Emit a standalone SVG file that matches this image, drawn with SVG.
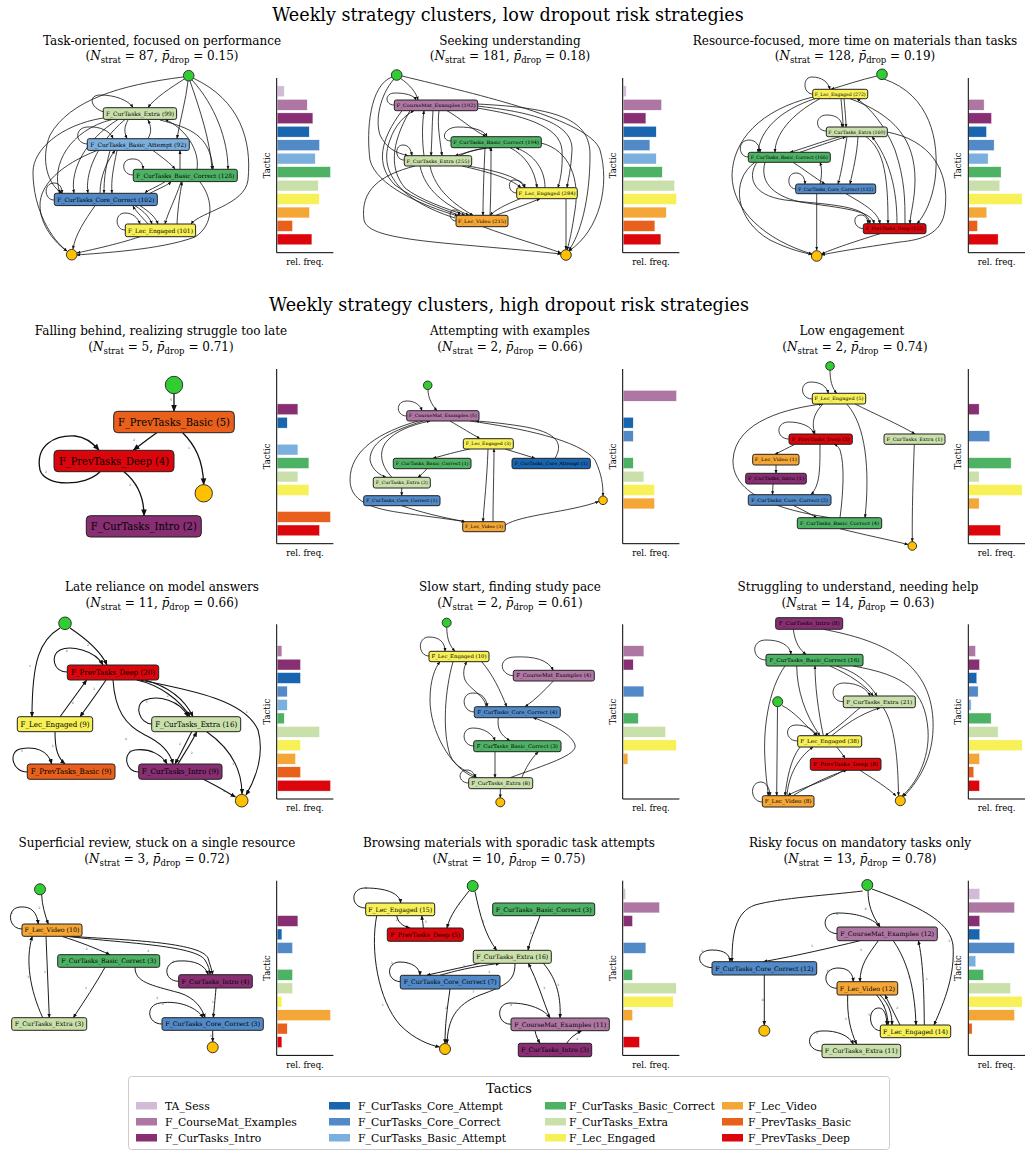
<svg xmlns="http://www.w3.org/2000/svg" width="1028" height="1154" viewBox="0 0 1028 1154">
<style>
text{font-family:"DejaVu Serif","Liberation Serif",serif;fill:#000}
.mt{font-size:17.6px;text-anchor:middle}
.pt{font-size:12px;text-anchor:middle}
.sb{font-size:8.5px}
.nl{text-anchor:middle}
.node rect{stroke:#222;stroke-width:1}
.st{fill:#32cd32;stroke:#222;stroke-width:0.9}
.en{fill:#ffc000;stroke:#222;stroke-width:0.9}
.e1{fill:none;stroke:#111;stroke-width:0.8;marker-end:url(#m3)}
.e2{fill:none;stroke:#111;stroke-width:0.95;marker-end:url(#m4)}
.e3{fill:none;stroke:#111;stroke-width:1.3;marker-end:url(#m6)}
.e4{fill:none;stroke:#111;stroke-width:1.05;marker-end:url(#m5)}
.lb{font-family:"DejaVu Sans",sans-serif;font-size:3px;fill:#444;text-anchor:middle}
.ax{fill:none;stroke:#000;stroke-width:1}
.al{font-size:8.5px;text-anchor:middle}
.bars rect{stroke:#fff;stroke-width:0.4}
.c0{fill:#d1bbd7}.c1{fill:#ae76a3}.c2{fill:#882e72}.c3{fill:#1965b0}.c4{fill:#5289c7}.c5{fill:#7bafde}
.c6{fill:#4eb265}.c7{fill:#cae0ab}.c8{fill:#f7f056}.c9{fill:#f4a736}.c10{fill:#e8601c}.c11{fill:#dc050c}
.lg{font-size:10.8px}
</style>
<defs>
<marker id="m3" viewBox="0 0 10 10" refX="9" refY="5" markerWidth="3.8" markerHeight="3.8" markerUnits="userSpaceOnUse" orient="auto"><path d="M0,1 L10,5 L0,9 z" fill="#111"/></marker>
<marker id="m4" viewBox="0 0 10 10" refX="9" refY="5" markerWidth="4.6" markerHeight="4.6" markerUnits="userSpaceOnUse" orient="auto"><path d="M0,1 L10,5 L0,9 z" fill="#111"/></marker>
<marker id="m5" viewBox="0 0 10 10" refX="9" refY="5" markerWidth="5.5" markerHeight="5.5" markerUnits="userSpaceOnUse" orient="auto"><path d="M0,1 L10,5 L0,9 z" fill="#111"/></marker>
<marker id="m6" viewBox="0 0 10 10" refX="9" refY="5" markerWidth="7" markerHeight="7" markerUnits="userSpaceOnUse" orient="auto"><path d="M0,1 L10,5 L0,9 z" fill="#111"/></marker>
</defs>
<rect width="1028" height="1154" fill="#fff"/>

<g id="titles">
<text class="mt" x="508" y="21">Weekly strategy clusters, low dropout risk strategies</text>
<text class="mt" x="509" y="311">Weekly strategy clusters, high dropout risk strategies</text>
<text class="pt" x="162" y="45">Task-oriented, focused on performance</text>
<text class="pt" x="162" y="60">(<tspan font-style="italic">N</tspan><tspan class="sb" dy="2.5">strat</tspan><tspan dy="-2.5"> = 87, </tspan><tspan font-style="italic">p̄</tspan><tspan class="sb" dy="2.5">drop</tspan><tspan dy="-2.5"> = 0.15)</tspan></text>
<text class="pt" x="510" y="45">Seeking understanding</text>
<text class="pt" x="510" y="60">(<tspan font-style="italic">N</tspan><tspan class="sb" dy="2.5">strat</tspan><tspan dy="-2.5"> = 181, </tspan><tspan font-style="italic">p̄</tspan><tspan class="sb" dy="2.5">drop</tspan><tspan dy="-2.5"> = 0.18)</tspan></text>
<text class="pt" x="855" y="45">Resource-focused, more time on materials than tasks</text>
<text class="pt" x="855" y="60">(<tspan font-style="italic">N</tspan><tspan class="sb" dy="2.5">strat</tspan><tspan dy="-2.5"> = 128, </tspan><tspan font-style="italic">p̄</tspan><tspan class="sb" dy="2.5">drop</tspan><tspan dy="-2.5"> = 0.19)</tspan></text>
<text class="pt" x="161" y="335">Falling behind, realizing struggle too late</text>
<text class="pt" x="161" y="351">(<tspan font-style="italic">N</tspan><tspan class="sb" dy="2.5">strat</tspan><tspan dy="-2.5"> = 5, </tspan><tspan font-style="italic">p̄</tspan><tspan class="sb" dy="2.5">drop</tspan><tspan dy="-2.5"> = 0.71)</tspan></text>
<text class="pt" x="510" y="335">Attempting with examples</text>
<text class="pt" x="510" y="351">(<tspan font-style="italic">N</tspan><tspan class="sb" dy="2.5">strat</tspan><tspan dy="-2.5"> = 2, </tspan><tspan font-style="italic">p̄</tspan><tspan class="sb" dy="2.5">drop</tspan><tspan dy="-2.5"> = 0.66)</tspan></text>
<text class="pt" x="852" y="335">Low engagement</text>
<text class="pt" x="855" y="351">(<tspan font-style="italic">N</tspan><tspan class="sb" dy="2.5">strat</tspan><tspan dy="-2.5"> = 2, </tspan><tspan font-style="italic">p̄</tspan><tspan class="sb" dy="2.5">drop</tspan><tspan dy="-2.5"> = 0.74)</tspan></text>
<text class="pt" x="162" y="591">Late reliance on model answers</text>
<text class="pt" x="162" y="607">(<tspan font-style="italic">N</tspan><tspan class="sb" dy="2.5">strat</tspan><tspan dy="-2.5"> = 11, </tspan><tspan font-style="italic">p̄</tspan><tspan class="sb" dy="2.5">drop</tspan><tspan dy="-2.5"> = 0.66)</tspan></text>
<text class="pt" x="510" y="591">Slow start, finding study pace</text>
<text class="pt" x="510" y="607">(<tspan font-style="italic">N</tspan><tspan class="sb" dy="2.5">strat</tspan><tspan dy="-2.5"> = 2, </tspan><tspan font-style="italic">p̄</tspan><tspan class="sb" dy="2.5">drop</tspan><tspan dy="-2.5"> = 0.61)</tspan></text>
<text class="pt" x="858" y="591">Struggling to understand, needing help</text>
<text class="pt" x="858" y="607">(<tspan font-style="italic">N</tspan><tspan class="sb" dy="2.5">strat</tspan><tspan dy="-2.5"> = 14, </tspan><tspan font-style="italic">p̄</tspan><tspan class="sb" dy="2.5">drop</tspan><tspan dy="-2.5"> = 0.63)</tspan></text>
<text class="pt" x="157" y="847">Superficial review, stuck on a single resource</text>
<text class="pt" x="157" y="863">(<tspan font-style="italic">N</tspan><tspan class="sb" dy="2.5">strat</tspan><tspan dy="-2.5"> = 3, </tspan><tspan font-style="italic">p̄</tspan><tspan class="sb" dy="2.5">drop</tspan><tspan dy="-2.5"> = 0.72)</tspan></text>
<text class="pt" x="509" y="847">Browsing materials with sporadic task attempts</text>
<text class="pt" x="509" y="863">(<tspan font-style="italic">N</tspan><tspan class="sb" dy="2.5">strat</tspan><tspan dy="-2.5"> = 10, </tspan><tspan font-style="italic">p̄</tspan><tspan class="sb" dy="2.5">drop</tspan><tspan dy="-2.5"> = 0.75)</tspan></text>
<text class="pt" x="860" y="847">Risky focus on mandatory tasks only</text>
<text class="pt" x="860" y="863">(<tspan font-style="italic">N</tspan><tspan class="sb" dy="2.5">strat</tspan><tspan dy="-2.5"> = 13, </tspan><tspan font-style="italic">p̄</tspan><tspan class="sb" dy="2.5">drop</tspan><tspan dy="-2.5"> = 0.78)</tspan></text>
</g>

<!-- ===== Panel 1 ===== -->
<g id="p1">
<g id="p1-connectors">
<path class="e1" d="M186,78 C170,88 155,98 148,107.5"/>
<path class="e1" d="M188,81 C186,100 180,120 177,138.5"/>
<path class="e1" d="M190,81 C200,110 210,140 212,169"/>
<path class="e1" d="M192,80 C215,105 228,140 228,169"/>
<path class="e1" d="M193,78 C240,100 252,140 248,180 C245,205 200,212 191,224"/>
<path class="e1" d="M183,77 C120,85 70,100 50,135 C40,160 48,185 62,193"/>
<path class="e1" d="M103,118 C60,125 33,150 33,172 C33,210 52,240 67,251"/>
<path class="e1" d="M104,112 C90,108 88,95 100,95 C115,95 128,100 133,107.5"/>
<path class="e1" d="M128,120 C124,127 124,132 127,138.5"/>
<path class="e1" d="M148,138.5 C152,132 151,126 148,120"/>
<path class="e1" d="M160,120 C190,128 210,135 213,169"/>
<path class="e1" d="M197,169 C200,150 185,128 165,119.5"/>
<path class="e1" d="M112,119.5 C70,130 50,165 60,193"/>
<path class="e1" d="M118,119.5 C85,140 70,170 74,193"/>
<path class="e1" d="M125,119.5 C95,145 85,175 88,193"/>
<path class="e1" d="M88,144 C75,144 74,128 87,127 C100,126 110,131 113,138.5"/>
<path class="e1" d="M153,150.5 C163,158 170,163 175,169"/>
<path class="e1" d="M110,150.5 C105,170 104,180 104,193"/>
<path class="e1" d="M117,150.5 C113,170 111,180 112,193"/>
<path class="e1" d="M97,150.5 C60,165 40,185 40,205 C40,225 55,243 67,251"/>
<path class="e1" d="M180,169 L180,150.5"/>
<path class="e1" d="M133,175 C122,175 120,160 131,159 C140,158 143,164 143,169"/>
<path class="e1" d="M165,181.7 C155,188 148,190 145,193"/>
<path class="e1" d="M150,193.3 C160,188 168,185 171,181.7"/>
<path class="e1" d="M181,182 C175,200 168,212 165,224"/>
<path class="e1" d="M177,224 C178,205 180,195 182,182"/>
<path class="e1" d="M200,182 C214,200 214,225 195,237 C160,250 100,253 77,255"/>
<path class="e1" d="M54,200 C44,200 43,183 54,183 C60,183 62,188 62,193"/>
<path class="e1" d="M135,205.7 C145,212 150,218 152,224"/>
<path class="e1" d="M140,205.7 C150,212 156,218 158,224"/>
<path class="e1" d="M148,224 C140,215 135,210 133,206"/>
<path class="e1" d="M95,205.7 C85,220 75,235 73,249"/>
<path class="e1" d="M125,230 C115,230 114,213 125,213 C133,213 138,218 140,224"/>
<path class="e1" d="M140,236.7 C115,245 90,250 77,253"/>
<path class="e1" d="M100,193.3 C100,175 108,160 115,150.5"/>
</g>
<g id="p1-start"><circle class="st" cx="188.7" cy="75.7" r="5.3"/></g>
<g id="p1-end"><circle class="en" cx="71.7" cy="254.7" r="5.3"/></g>
<g id="p1-extra" class="node"><rect x="103.3" y="107.7" width="73.3" height="11.7" rx="2" fill="#cae0ab"/><text class="nl" x="140" y="115.7" font-size="6" textLength="68" lengthAdjust="spacingAndGlyphs">F_CurTasks_Extra (99)</text></g>
<g id="p1-basicatt" class="node"><rect x="87.3" y="138.7" width="102" height="11.7" rx="2" fill="#7bafde"/><text class="nl" x="138.3" y="146.7" font-size="6" textLength="96" lengthAdjust="spacingAndGlyphs">F_CurTasks_Basic_Attempt (92)</text></g>
<g id="p1-basiccor" class="node"><rect x="133.3" y="169.3" width="104" height="12.3" rx="2" fill="#4eb265"/><text class="nl" x="185.3" y="177.6" font-size="6" textLength="98" lengthAdjust="spacingAndGlyphs">F_CurTasks_Basic_Correct (128)</text></g>
<g id="p1-corecor" class="node"><rect x="54.3" y="193.3" width="103" height="12.3" rx="2" fill="#5289c7"/><text class="nl" x="105.8" y="201.6" font-size="6" textLength="97" lengthAdjust="spacingAndGlyphs">F_CurTasks_Core_Correct (102)</text></g>
<g id="p1-leceng" class="node"><rect x="125.3" y="224" width="70.3" height="12.7" rx="2" fill="#f7f056"/><text class="nl" x="160.45" y="232.5" font-size="6" textLength="65" lengthAdjust="spacingAndGlyphs">F_Lec_Engaged (101)</text></g>
</g>

<!-- ===== Panel 2 ===== -->
<g id="p2">
<g id="p2-connectors">
<path class="e1" d="M400,78 C410,85 416,92 418,100"/>
<path class="e1" d="M394,79 C380,95 375,120 380,135 C386,148 396,153 408,155.7"/>
<path class="e1" d="M394,105 C385,105 384,93 395,93 C405,93 414,95 416,100"/>
<path class="e1" d="M392,77 C370,85 366,130 370,160 C376,185 420,205 458,216"/>
<path class="e1" d="M402,110.7 C380,140 375,165 395,185 C415,200 440,208 461,216"/>
<path class="e1" d="M410,110.7 C390,145 390,170 405,188 C420,200 445,208 465,215.3"/>
<path class="e1" d="M420,166 C425,190 445,205 469,215.3"/>
<path class="e1" d="M430,166 C435,190 455,205 473,215.3"/>
<path class="e1" d="M402,76 C480,95 590,120 600,150 C610,185 600,230 569,251"/>
<path class="e1" d="M447,110.7 C460,118 470,128 486,136.7"/>
<path class="e1" d="M477,108 C520,115 560,125 562,150 C563,170 560,180 558,187.7"/>
<path class="e1" d="M477,106 C530,112 573,122 572,150 C571,170 568,180 567,187.7"/>
<path class="e1" d="M477,104 C560,108 590,120 590,155 C590,200 580,235 569,250"/>
<path class="e1" d="M424,155.7 C422,140 422,125 424,110.7"/>
<path class="e1" d="M433,110.7 C432,125 432,140 431,155.7"/>
<path class="e1" d="M439,110.7 C437,125 440,140 442,155.7"/>
<path class="e1" d="M451,141 C440,141 443,127 458,127 C473,127 484,130 487,136.7"/>
<path class="e1" d="M486,147.7 C475,150 465,153 455,155.7"/>
<path class="e1" d="M460,155.7 C470,150 480,149 492,147.7"/>
<path class="e1" d="M485,147.7 C484,170 483,195 483,215.3"/>
<path class="e1" d="M490,215.3 C491,190 491,170 491,147.7"/>
<path class="e1" d="M510,147.7 C525,155 535,170 537,187.7"/>
<path class="e1" d="M545,187.7 C545,170 535,155 516,147.7"/>
<path class="e1" d="M541,143 C570,150 580,180 575,210 C572,230 570,240 567,250"/>
<path class="e1" d="M404,160 C395,160 394,145 403,145 C409,145 411,150 412,155.7"/>
<path class="e1" d="M468,166 C490,170 518,175 525,187.7"/>
<path class="e1" d="M462,166 C488,172 510,178 521,187.7"/>
<path class="e1" d="M415,166 C380,175 360,190 364,220 C368,242 450,242 561,254"/>
<path class="e1" d="M516.7,193 C508,193 507,180 514,180 C521,180 524,184 525,187.7"/>
<path class="e1" d="M520,198.7 C505,205 495,210 490,215.3"/>
<path class="e1" d="M496,215.3 C510,210 525,205 540,198.7"/>
<path class="e1" d="M566,198.7 L566,249.5"/>
<path class="e1" d="M456,221 C449,221 448,210 454,210 C458,210 459,212 459,215.3"/>
<path class="e1" d="M483,226.7 C510,237 540,245 561,253"/>
<path class="e1" d="M455,218 C398,200 378,170 390,140 C395,125 405,115 414,110.7"/>
</g>
<g id="p2-start"><circle class="st" cx="396.7" cy="75" r="5.3"/></g>
<g id="p2-end"><circle class="en" cx="566" cy="255" r="5.3"/></g>
<g id="p2-coursemat" class="node"><rect x="394.3" y="100" width="83.4" height="10.7" rx="2" fill="#ae76a3"/><text class="nl" x="436" y="107" font-size="4.6" textLength="79" lengthAdjust="spacingAndGlyphs">F_CourseMat_Examples (192)</text></g>
<g id="p2-basiccor" class="node"><rect x="451" y="136.7" width="90.3" height="11" rx="2" fill="#4eb265"/><text class="nl" x="496.15" y="143.8" font-size="4.6" textLength="86" lengthAdjust="spacingAndGlyphs">F_CurTasks_Basic_Correct (194)</text></g>
<g id="p2-extra" class="node"><rect x="404.3" y="155.7" width="67.4" height="10.3" rx="2" fill="#cae0ab"/><text class="nl" x="438" y="162.5" font-size="4.6" textLength="63" lengthAdjust="spacingAndGlyphs">F_CurTasks_Extra (255)</text></g>
<g id="p2-leceng" class="node"><rect x="516.7" y="187.7" width="60.6" height="11" rx="2" fill="#f7f056"/><text class="nl" x="547" y="194.8" font-size="4.6" textLength="57" lengthAdjust="spacingAndGlyphs">F_Lec_Engaged (284)</text></g>
<g id="p2-lecvideo" class="node"><rect x="456" y="215.3" width="52" height="11.4" rx="2" fill="#f4a736"/><text class="nl" x="482" y="222.6" font-size="4.6" textLength="48" lengthAdjust="spacingAndGlyphs">F_Lec_Video (215)</text></g>
</g>

<!-- ===== Panel 3 ===== -->
<g id="p3">
<g id="p3-connectors">
<path class="e1" d="M877,76 C860,80 845,85 831,89.3"/>
<path class="e1" d="M812.7,94 C803,94 802,77 812,77 C822,77 828,82 830,89.3"/>
<path class="e1" d="M884,79 C930,95 940,140 935,180 C932,200 925,215 917,223.7"/>
<path class="e1" d="M887,132 C930,140 950,170 945,210 C942,235 920,240 900,242 C860,248 835,252 821.5,255"/>
<path class="e1" d="M841,98.7 C842,110 843,120 843,127"/>
<path class="e1" d="M844,98.7 C845,110 846,120 846,127"/>
<path class="e1" d="M815,98.7 C780,110 760,130 758,152.3"/>
<path class="e1" d="M820,98.7 C790,115 775,135 775,152.3"/>
<path class="e1" d="M813,97 C760,110 733,140 732,175 C732,210 765,240 812,254"/>
<path class="e1" d="M850,98.7 C895,115 915,140 915,180 C915,200 910,215 910,223.7"/>
<path class="e1" d="M905,223.7 C905,200 905,180 895,150 C885,125 870,108 857,98.7"/>
<path class="e1" d="M826.3,131 C815,131 814,115 827,115 C837,115 842,120 842,127"/>
<path class="e1" d="M840,136.7 C820,142 805,148 790,152.3"/>
<path class="e1" d="M800,152.3 C815,147 830,142 846,136.7"/>
<path class="e1" d="M847,136.7 C844,155 842,170 838,184"/>
<path class="e1" d="M858,136.7 C857,155 853,170 850,184"/>
<path class="e1" d="M866,136.7 C885,150 888,180 888,223.7"/>
<path class="e1" d="M897,223.7 C897,190 890,160 872,136.7"/>
<path class="e1" d="M748.3,157 C738,157 737,140 749,140 C756,140 760,146 760,152.3"/>
<path class="e1" d="M793,162.3 C805,170 815,178 825,184"/>
<path class="e1" d="M820,184 C822,175 822,168 820,162.3"/>
<path class="e1" d="M757,162.3 C748,175 750,195 785,200 C830,205 868,205 870,223.7"/>
<path class="e1" d="M765,162.3 C760,180 770,195 800,202 C840,208 872,210 874,223.7"/>
<path class="e1" d="M755,162.3 C730,180 735,220 770,240 C790,250 805,253 812,254.5"/>
<path class="e1" d="M795.7,189 C787,189 786,173 796,173 C802,173 805,178 805,184"/>
<path class="e1" d="M816.7,193.7 L816.7,250.2"/>
<path class="e1" d="M846,193.7 C865,205 878,212 880,223.7"/>
<path class="e1" d="M863.3,228.7 C853,228 852,215 861,215 C866,215 868,220 868,223.7"/>
<path class="e1" d="M880,233.7 C850,243 830,250 821.5,254"/>
</g>
<g id="p3-start"><circle class="st" cx="882" cy="74.3" r="5.3"/></g>
<g id="p3-end"><circle class="en" cx="816.7" cy="256" r="5.3"/></g>
<g id="p3-leceng" class="node"><rect x="812.7" y="89.3" width="55" height="9.4" rx="2" fill="#f7f056"/><text class="nl" x="840.2" y="95.6" font-size="4.6" textLength="51" lengthAdjust="spacingAndGlyphs">F_Lec_Engaged (272)</text></g>
<g id="p3-extra" class="node"><rect x="826.3" y="127" width="61" height="9.7" rx="2" fill="#cae0ab"/><text class="nl" x="856.8" y="133.5" font-size="4.6" textLength="57" lengthAdjust="spacingAndGlyphs">F_CurTasks_Extra (160)</text></g>
<g id="p3-basiccor" class="node"><rect x="748.3" y="152.3" width="82" height="10" rx="2" fill="#4eb265"/><text class="nl" x="789.3" y="158.9" font-size="4.6" textLength="77" lengthAdjust="spacingAndGlyphs">F_CurTasks_Basic_Correct (166)</text></g>
<g id="p3-corecor" class="node"><rect x="795.7" y="184" width="80" height="9.7" rx="2" fill="#5289c7"/><text class="nl" x="835.7" y="190.5" font-size="4.6" textLength="75" lengthAdjust="spacingAndGlyphs">F_CurTasks_Core_Correct (132)</text></g>
<g id="p3-prevdeep" class="node"><rect x="863.3" y="223.7" width="62.7" height="10" rx="2" fill="#dc050c"/><text class="nl" x="894.65" y="230.3" font-size="4.6" textLength="58" lengthAdjust="spacingAndGlyphs">F_PrevTasks_Deep (152)</text></g>
</g>

<!-- ===== Panel 4 (row2 col1) ===== -->
<g id="p4">
<g id="p4-connectors">
<path class="e3" d="M174,393.7 L174,411.3"/>
<path class="e3" d="M156.7,432.7 C148,439 140,445 133.3,450.3"/>
<path class="e3" d="M182.7,432.7 C195,445 203,460 203.7,484.6"/>
<path class="e3" d="M100,471.7 C85,487 45,487 40,470 C35,445 55,435 75,436 C85,437 93,443 99,450.3"/>
<path class="e3" d="M124,471.7 C138,483 144,497 144,515.7"/>
<text class="lb" x="171" y="401" font-size="3.5">5</text>
<text class="lb" x="134" y="441" font-size="3.5">2</text>
<text class="lb" x="189" y="449" font-size="3.5">1</text>
<text class="lb" x="46" y="473" font-size="3.5">2</text>
<text class="lb" x="130" y="486" font-size="3.5">2</text>
</g>
<g id="p4-start"><circle class="st" cx="174" cy="385" r="8.7"/></g>
<g id="p4-end"><circle class="en" cx="203.7" cy="493.3" r="8.7"/></g>
<g id="p4-prevbasic" class="node"><rect x="113.7" y="411.3" width="120.6" height="21.4" rx="4" fill="#e8601c"/><text class="nl" x="174" y="425.9" font-size="11" textLength="112" lengthAdjust="spacingAndGlyphs">F_PrevTasks_Basic (5)</text></g>
<g id="p4-prevdeep" class="node"><rect x="54" y="450.3" width="120" height="21.4" rx="4" fill="#dc050c"/><text class="nl" x="114" y="464.9" font-size="11" textLength="110" lengthAdjust="spacingAndGlyphs">F_PrevTasks_Deep (4)</text></g>
<g id="p4-intro" class="node"><rect x="86.3" y="515.7" width="115" height="21.3" rx="4" fill="#882e72"/><text class="nl" x="143.8" y="530.3" font-size="11" textLength="106" lengthAdjust="spacingAndGlyphs">F_CurTasks_Intro (2)</text></g>
</g>

<!-- ===== Panel 5 (row2 col2) ===== -->
<g id="p5">
<g id="p5-connectors">
<path class="e1" d="M428,389.6 C428,398 432,405 437,410.7"/>
<path class="e1" d="M406.7,416 C396,416 395,401 407,401 C415,401 420,405 422,410.7"/>
<path class="e1" d="M450,421 C462,428 472,434 480,438.7"/>
<path class="e1" d="M423,421 C395,430 370,440 370,460 C372,470 380,475 386,477.3"/>
<path class="e1" d="M392,477.3 C380,465 378,450 388,440 C395,432 410,425 430,421"/>
<path class="e1" d="M418,421 C380,432 350,450 350,480 C350,505 380,510 410,514 C440,518 455,520 465,521.7"/>
<path class="e1" d="M470,421 C520,428 580,440 595,460 C602,475 603,485 603,496"/>
<path class="e1" d="M555,458.3 C563,445 560,432 520,426 C500,423 490,422 476,421"/>
<path class="e1" d="M470,449 C455,452 445,455 433,458.3"/>
<path class="e1" d="M505,449 C515,452 525,455 535,458.3"/>
<path class="e1" d="M488,449 C487,480 484,505 483,521.7"/>
<path class="e1" d="M493,521.7 C493,500 494,470 494,449"/>
<path class="e1" d="M427,468.7 C424,472 421,475 418,477.3"/>
<path class="e1" d="M401.7,488 L401.7,495.7"/>
<path class="e1" d="M401.7,505.7 C420,512 440,517 465,521.7"/>
<path class="e1" d="M505.3,525 C520,515 570,512 598.7,501.5"/>
</g>
<g id="p5-start"><circle class="st" cx="427.7" cy="385.3" r="4.3"/></g>
<g id="p5-end"><circle class="en" cx="603" cy="500.3" r="4.3"/></g>
<g id="p5-coursemat" class="node"><rect x="406.7" y="410.7" width="72.3" height="10.3" rx="2" fill="#ae76a3"/><text class="nl" x="442.85" y="417.4" font-size="4.4" textLength="68" lengthAdjust="spacingAndGlyphs">F_CourseMat_Examples (5)</text></g>
<g id="p5-leceng" class="node"><rect x="463.3" y="438.7" width="50" height="10.3" rx="2" fill="#f7f056"/><text class="nl" x="488.3" y="445.4" font-size="4.4" textLength="45" lengthAdjust="spacingAndGlyphs">F_Lec_Engaged (3)</text></g>
<g id="p5-basiccor" class="node"><rect x="393.3" y="458.3" width="77.7" height="10.4" rx="2" fill="#4eb265"/><text class="nl" x="432.15" y="465" font-size="4.4" textLength="73" lengthAdjust="spacingAndGlyphs">F_CurTasks_Basic_Correct (1)</text></g>
<g id="p5-coreatt" class="node"><rect x="512" y="458.3" width="78.3" height="10.4" rx="2" fill="#1965b0"/><text class="nl" x="551.15" y="465" font-size="4.4" textLength="73" lengthAdjust="spacingAndGlyphs">F_CurTasks_Core_Attempt (1)</text></g>
<g id="p5-extra" class="node"><rect x="373.3" y="477.3" width="57" height="10.7" rx="2" fill="#cae0ab"/><text class="nl" x="401.8" y="484.2" font-size="4.4" textLength="52" lengthAdjust="spacingAndGlyphs">F_CurTasks_Extra (2)</text></g>
<g id="p5-corecor" class="node"><rect x="363.7" y="495.7" width="76.3" height="10" rx="2" fill="#5289c7"/><text class="nl" x="401.85" y="502.2" font-size="4.4" textLength="71" lengthAdjust="spacingAndGlyphs">F_CurTasks_Core_Correct (1)</text></g>
<g id="p5-lecvideo" class="node"><rect x="462.7" y="521.7" width="42.6" height="10" rx="2" fill="#f4a736"/><text class="nl" x="484" y="528.2" font-size="4.4" textLength="38" lengthAdjust="spacingAndGlyphs">F_Lec_Video (3)</text></g>
</g>

<!-- ===== Panel 6 (row2 col3) ===== -->
<g id="p6">
<g id="p6-connectors">
<path class="e1" d="M830,370.3 C830,380 832,388 836.7,393.3"/>
<path class="e1" d="M812.3,399 C800,399 799,382 811,382 C821,382 827,387 828.3,393.3"/>
<path class="e1" d="M823,404 C812,415 812,425 815,434"/>
<path class="e1" d="M855,404 C875,414 900,425 915,434"/>
<path class="e1" d="M846.7,404 C866,425 870,470 865,517.7"/>
<path class="e1" d="M830,517.7 C780,510 732,495 733,460 C735,420 790,408 822,404"/>
<path class="e1" d="M789,439 C776,439 775,422 789,422 C800,422 812,426 814,434"/>
<path class="e1" d="M795,444.3 C787,448 782,451 775,454.3"/>
<path class="e1" d="M820,444.3 C820,470 820,485 811,494.7"/>
<path class="e1" d="M840,517.7 C843,495 845,465 840,450 C838,446 836,445 834,444.3"/>
<path class="e1" d="M776,465 L776,473.3"/>
<path class="e1" d="M773,484 L772.5,494.7"/>
<path class="e1" d="M793,505.3 C803,510 810,514 817,517.7"/>
<path class="e1" d="M914.3,444.3 C913,480 912,510 912.3,541.7"/>
<path class="e1" d="M840,528.7 C865,535 890,540 908,544.5"/>
</g>
<g id="p6-start"><circle class="st" cx="830" cy="366" r="4.3"/></g>
<g id="p6-end"><circle class="en" cx="912.3" cy="546" r="4.3"/></g>
<g id="p6-leceng" class="node"><rect x="812.3" y="393.3" width="53.4" height="10.7" rx="2" fill="#f7f056"/><text class="nl" x="839" y="400.3" font-size="4.6" textLength="49" lengthAdjust="spacingAndGlyphs">F_Lec_Engaged (5)</text></g>
<g id="p6-prevdeep" class="node"><rect x="789" y="434" width="63.3" height="10.3" rx="2" fill="#dc050c"/><text class="nl" x="820.65" y="440.8" font-size="4.6" textLength="58" lengthAdjust="spacingAndGlyphs">F_PrevTasks_Deep (3)</text></g>
<g id="p6-extra" class="node"><rect x="884" y="434" width="61" height="10.3" rx="2" fill="#cae0ab"/><text class="nl" x="914.5" y="440.8" font-size="4.6" textLength="56" lengthAdjust="spacingAndGlyphs">F_CurTasks_Extra (1)</text></g>
<g id="p6-lecvideo" class="node"><rect x="752.7" y="454.3" width="46.3" height="10.7" rx="2" fill="#f4a736"/><text class="nl" x="775.85" y="461.3" font-size="4.6" textLength="42" lengthAdjust="spacingAndGlyphs">F_Lec_Video (1)</text></g>
<g id="p6-intro" class="node"><rect x="745.7" y="473.3" width="60.6" height="10.7" rx="2" fill="#882e72"/><text class="nl" x="776" y="480.3" font-size="4.6" textLength="56" lengthAdjust="spacingAndGlyphs">F_CurTasks_Intro (1)</text></g>
<g id="p6-corecor" class="node"><rect x="748.3" y="494.7" width="82.7" height="10.6" rx="2" fill="#5289c7"/><text class="nl" x="789.65" y="501.6" font-size="4.6" textLength="77" lengthAdjust="spacingAndGlyphs">F_CurTasks_Core_Correct (2)</text></g>
<g id="p6-basiccor" class="node"><rect x="797.3" y="517.7" width="84.4" height="11" rx="2" fill="#4eb265"/><text class="nl" x="839.5" y="524.8" font-size="4.6" textLength="79" lengthAdjust="spacingAndGlyphs">F_CurTasks_Basic_Correct (4)</text></g>
</g>

<!-- ===== Panel 7 (row3 col1) ===== -->
<g id="p7">
<g id="p7-connectors">
<path class="e4" d="M60,628 C40,640 32,660 32,716.7"/>
<path class="e4" d="M70,628 C85,638 100,650 107,665"/>
<path class="e4" d="M67.3,672 C53,672 50,655 60,650 C70,645 95,650 103,665"/>
<path class="e4" d="M60,716.7 C70,703 78,692 86.7,680"/>
<path class="e4" d="M106,680 C98,692 90,703 80,716.7"/>
<path class="e4" d="M136.7,680 C160,685 180,700 190,716.7"/>
<path class="e4" d="M145,680 C170,687 185,700 193,716.7"/>
<path class="e4" d="M113,680 C115,710 125,725 145,735 C160,742 170,752 173,764"/>
<path class="e4" d="M140,680 C190,690 245,700 258,730 C265,755 255,780 246,795"/>
<path class="e4" d="M151.7,724 C140,724 133,705 145,700 C158,695 180,700 188,716.7"/>
<path class="e4" d="M191.7,731.7 C185,745 180,755 175,764"/>
<path class="e4" d="M178,764 C185,752 192,742 196.7,731.7"/>
<path class="e4" d="M206.7,731.7 C230,748 242,770 242,794"/>
<path class="e4" d="M138.7,772 C125,772 122,752 135,750 C150,748 162,755 167,764"/>
<path class="e4" d="M203.3,779.3 C215,785 225,791 235.5,797"/>
<path class="e4" d="M55,731.7 C55,750 58,758 65,764"/>
<path class="e4" d="M27.3,772 C12,772 8,752 20,749 C35,746 48,750 51.7,764"/>
<text class="lb" x="30" y="667" font-size="3.3">1</text>
<text class="lb" x="88" y="646" font-size="3.3">2</text>
<text class="lb" x="66.7" y="652" font-size="3.3">4</text>
<text class="lb" x="72.7" y="704" font-size="3.3">4</text>
<text class="lb" x="94" y="690" font-size="3.3">3</text>
<text class="lb" x="167.7" y="697" font-size="3.3">2</text>
<text class="lb" x="126" y="740" font-size="3.3">4</text>
<text class="lb" x="246.7" y="713" font-size="3.3">1</text>
<text class="lb" x="146.7" y="703" font-size="3.3">5</text>
<text class="lb" x="180" y="745" font-size="3.3">2</text>
<text class="lb" x="191.7" y="754" font-size="3.3">2</text>
<text class="lb" x="233.3" y="765" font-size="3.3">1</text>
<text class="lb" x="130" y="752" font-size="3.3">2</text>
<text class="lb" x="224.3" y="792" font-size="3.3">4</text>
<text class="lb" x="52.7" y="747" font-size="3.3">2</text>
<text class="lb" x="21.7" y="752" font-size="3.3">3</text>
</g>
<g id="p7-start"><circle class="st" cx="65" cy="623.3" r="6.3"/></g>
<g id="p7-end"><circle class="en" cx="241.7" cy="800.7" r="6.3"/></g>
<g id="p7-prevdeep" class="node"><rect x="67.3" y="665" width="91.4" height="15" rx="2.5" fill="#dc050c"/><text class="nl" x="113" y="675.1" font-size="7.5" textLength="84" lengthAdjust="spacingAndGlyphs">F_PrevTasks_Deep (20)</text></g>
<g id="p7-leceng" class="node"><rect x="17.3" y="716.7" width="75.4" height="15" rx="2.5" fill="#f7f056"/><text class="nl" x="55" y="726.8" font-size="7.5" textLength="69" lengthAdjust="spacingAndGlyphs">F_Lec_Engaged (9)</text></g>
<g id="p7-extra" class="node"><rect x="151.7" y="716.7" width="89" height="15" rx="2.5" fill="#cae0ab"/><text class="nl" x="196.2" y="726.8" font-size="7.5" textLength="82" lengthAdjust="spacingAndGlyphs">F_CurTasks_Extra (16)</text></g>
<g id="p7-prevbasic" class="node"><rect x="27.3" y="764" width="87.7" height="15.3" rx="2.5" fill="#e8601c"/><text class="nl" x="71.15" y="774.3" font-size="7.5" textLength="81" lengthAdjust="spacingAndGlyphs">F_PrevTasks_Basic (9)</text></g>
<g id="p7-intro" class="node"><rect x="138.7" y="764" width="83.3" height="15.3" rx="2.5" fill="#882e72"/><text class="nl" x="180.35" y="774.3" font-size="7.5" textLength="77" lengthAdjust="spacingAndGlyphs">F_CurTasks_Intro (9)</text></g>
</g>

<!-- ===== Panel 8 (row3 col2) ===== -->
<g id="p8">
<g id="p8-connectors">
<path class="e1" d="M446.7,627.2 C447,640 450,646 455,651.3"/>
<path class="e1" d="M429,656 C418,656 417,637 429,637 C439,637 445,642 445,651.3"/>
<path class="e1" d="M481.7,661.7 C493,675 500,690 506.7,706.7"/>
<path class="e1" d="M486,706.7 C485,695 470,690 465,680 C462,672 465,665 466.7,661.7"/>
<path class="e1" d="M513.3,675.7 C500,675 497,658 514,657 C535,656 548,660 553.3,670.3"/>
<path class="e1" d="M553.3,681 C545,690 535,700 525,706.7"/>
<path class="e1" d="M453,661.7 C445,690 442,730 450,755 C455,768 470,772 476.7,777.7"/>
<path class="e1" d="M475,777.7 C450,768 430,730 430,700 C430,680 435,668 440,661.7"/>
<path class="e1" d="M474.3,712 C462,712 460,693 473,693 C483,693 487,700 487,706.7"/>
<path class="e1" d="M498.3,717.7 C497,728 500,735 510,740.7"/>
<path class="e1" d="M510,777.7 C545,765 578,755 575,745 C572,735 555,725 533.3,717.7"/>
<path class="e1" d="M473.7,746 C462,746 460,728 473,728 C485,728 493,735 495,740.7"/>
<path class="e1" d="M495,751.7 L495,777.7"/>
<path class="e1" d="M521.7,777.7 C526,768 530,760 538.3,751.7"/>
<path class="e1" d="M468.7,783 C458,783 457,770 467,770 C472,770 475,774 475,777.7"/>
<path class="e1" d="M500.3,788.7 L500.3,797.8"/>
</g>
<g id="p8-start"><circle class="st" cx="446.7" cy="622.7" r="4.5"/></g>
<g id="p8-end"><circle class="en" cx="500.3" cy="802.3" r="4.5"/></g>
<g id="p8-leceng" class="node"><rect x="429" y="651.3" width="60" height="10.4" rx="2" fill="#f7f056"/><text class="nl" x="459" y="658.3" font-size="5" textLength="55" lengthAdjust="spacingAndGlyphs">F_Lec_Engaged (10)</text></g>
<g id="p8-coursemat" class="node"><rect x="513.3" y="670.3" width="81" height="10.7" rx="2" fill="#ae76a3"/><text class="nl" x="553.8" y="677.4" font-size="5" textLength="75" lengthAdjust="spacingAndGlyphs">F_CourseMat_Examples (4)</text></g>
<g id="p8-corecor" class="node"><rect x="474.3" y="706.7" width="86" height="11" rx="2" fill="#5289c7"/><text class="nl" x="517.3" y="714" font-size="5" textLength="80" lengthAdjust="spacingAndGlyphs">F_CurTasks_Core_Correct (4)</text></g>
<g id="p8-basiccor" class="node"><rect x="473.7" y="740.7" width="87.3" height="11" rx="2" fill="#4eb265"/><text class="nl" x="517.35" y="748" font-size="5" textLength="81" lengthAdjust="spacingAndGlyphs">F_CurTasks_Basic_Correct (3)</text></g>
<g id="p8-extra" class="node"><rect x="468.7" y="777.7" width="64" height="11" rx="2" fill="#cae0ab"/><text class="nl" x="500.7" y="785" font-size="5" textLength="59" lengthAdjust="spacingAndGlyphs">F_CurTasks_Extra (8)</text></g>
</g>

<!-- ===== Panel 9 (row3 col3) ===== -->
<g id="p9">
<g id="p9-connectors">
<path class="e1" d="M793.3,629.3 C795,643 800,650 806,654.3"/>
<path class="e1" d="M823.3,629.3 C880,640 930,660 933,720 C935,760 915,785 903.5,796.5"/>
<path class="e1" d="M766,660 C752,660 750,640 766,640 C780,640 790,645 791,654.3"/>
<path class="e1" d="M830,666 C850,675 865,685 873.3,696"/>
<path class="e1" d="M836,666 C858,672 870,685 877,696"/>
<path class="e1" d="M853,666 C905,675 925,690 928,730 C930,760 915,785 902,796"/>
<path class="e1" d="M796.7,666 C797,690 805,715 820,735.7"/>
<path class="e1" d="M823.3,735.7 C818,710 815,685 815,666"/>
<path class="e1" d="M782,705.5 C795,712 805,725 816.7,735.7"/>
<path class="e1" d="M777.5,706.7 L776.7,795.7"/>
<path class="e1" d="M843.3,701.7 C830,701.7 829,683 844,683 C859,683 868,690 870,696"/>
<path class="e1" d="M860,707.7 C850,716 840,726 825,735.7"/>
<path class="e1" d="M831.7,735.7 C845,725 858,715 880,707.7"/>
<path class="e1" d="M883.3,707.7 C895,725 898,760 898.5,795.7"/>
<path class="e1" d="M797.7,741 C785,741 784,725 796,725 C807,725 814,730 817,735.7"/>
<path class="e1" d="M836.7,747 C840,751 843,755 845,758.3"/>
<path class="e1" d="M843.3,770.3 C830,780 795,790 788,795.7"/>
<path class="e1" d="M793,795.7 C810,785 830,775 846.7,770.3"/>
<path class="e1" d="M800,747 C790,760 787,780 785,795.7"/>
<path class="e1" d="M787,795.7 C788,780 795,760 813,747"/>
<path class="e1" d="M785,666 C768,690 763,730 765,760 C766,780 768,790 768.3,795.7"/>
<path class="e1" d="M762.3,802 C750,802 749,782 761,782 C767,782 770,790 770,795.7"/>
<path class="e1" d="M860,770.3 C875,780 888,788 896,796"/>
</g>
<g id="p9-start"><circle class="st" cx="777.7" cy="701.7" r="5"/></g>
<g id="p9-end"><circle class="en" cx="900.3" cy="800.7" r="5"/></g>
<g id="p9-intro" class="node"><rect x="775.7" y="617.7" width="67" height="11.6" rx="2" fill="#882e72"/><text class="nl" x="809.2" y="625.4" font-size="5.3" textLength="61" lengthAdjust="spacingAndGlyphs">F_CurTasks_Intro (8)</text></g>
<g id="p9-basiccor" class="node"><rect x="766" y="654.3" width="97" height="11.7" rx="2" fill="#4eb265"/><text class="nl" x="814.5" y="662" font-size="5.3" textLength="90" lengthAdjust="spacingAndGlyphs">F_CurTasks_Basic_Correct (16)</text></g>
<g id="p9-extra" class="node"><rect x="843.3" y="696" width="72" height="11.7" rx="2" fill="#cae0ab"/><text class="nl" x="879.3" y="703.7" font-size="5.3" textLength="66" lengthAdjust="spacingAndGlyphs">F_CurTasks_Extra (21)</text></g>
<g id="p9-leceng" class="node"><rect x="797.7" y="735.7" width="64" height="11.3" rx="2" fill="#f7f056"/><text class="nl" x="829.7" y="743.2" font-size="5.3" textLength="59" lengthAdjust="spacingAndGlyphs">F_Lec_Engaged (38)</text></g>
<g id="p9-prevdeep" class="node"><rect x="810.3" y="758.3" width="70.7" height="12" rx="2" fill="#dc050c"/><text class="nl" x="845.65" y="766.2" font-size="5.3" textLength="65" lengthAdjust="spacingAndGlyphs">F_PrevTasks_Deep (8)</text></g>
<g id="p9-lecvideo" class="node"><rect x="762.3" y="795.7" width="51.7" height="11.3" rx="2" fill="#f4a736"/><text class="nl" x="788.15" y="803.2" font-size="5.3" textLength="47" lengthAdjust="spacingAndGlyphs">F_Lec_Video (8)</text></g>
</g>

<!-- ===== Panel 10 (row4 col1) ===== -->
<g id="p10">
<g id="p10-connectors">
<path class="e2" d="M41.7,895 C42,905 45,915 48.3,924"/>
<path class="e2" d="M22,929 C8,929 6,908 20,907 C32,906 37,913 38.3,924"/>
<path class="e2" d="M61.7,936.3 C80,942 95,948 110,954.7"/>
<path class="e2" d="M66.7,936.3 C120,943 195,945 205,960 C208,965 210,970 210,974.7"/>
<path class="e2" d="M70,936.3 C125,940 200,942 208,958 C210,965 212,970 212.5,974.7"/>
<path class="e2" d="M46,936.3 L49.3,1017.7"/>
<path class="e2" d="M42.7,1017.7 C30,990 25,960 32.3,936.3"/>
<path class="e2" d="M105,967.3 C95,985 85,1000 73.3,1017.7"/>
<path class="e2" d="M135,967.3 C135,982 150,985 180,993 C195,998 202,1008 205,1017.7"/>
<path class="e2" d="M178.7,981.3 C163,981 163,962 178,961 C195,960 205,965 208.3,974.7"/>
<path class="e2" d="M216,988 C215,1000 214,1010 213.3,1017.7"/>
<path class="e2" d="M162,1024 C147,1024 145,1005 160,1003 C180,1000 197,1008 203.3,1017.7"/>
<path class="e2" d="M212.7,1030.3 L212.7,1041.8"/>
<text class="lb" x="39.3" y="908.7">3</text>
<text class="lb" x="11.7" y="914.3">4</text>
<text class="lb" x="86.7" y="950.3">2</text>
<text class="lb" x="148.3" y="951.7">2</text>
<text class="lb" x="45" y="973.3">1</text>
<text class="lb" x="28.3" y="977.7">3</text>
<text class="lb" x="86" y="989.3">1</text>
<text class="lb" x="157.3" y="998.7">2</text>
<text class="lb" x="173.3" y="962.7">3</text>
<text class="lb" x="212.7" y="1002.7">1</text>
<text class="lb" x="163" y="1005">2</text>
<text class="lb" x="210.7" y="1037">3</text>
</g>
<g id="p10-start"><circle class="st" cx="40" cy="889.3" r="5.5"/></g>
<g id="p10-end"><circle class="en" cx="212.7" cy="1047.3" r="5.5"/></g>
<g id="p10-lecvideo" class="node"><rect x="22" y="924" width="60" height="12.3" rx="2" fill="#f4a736"/><text class="nl" x="52" y="932.4" font-size="6.3" textLength="55" lengthAdjust="spacingAndGlyphs">F_Lec_Video (10)</text></g>
<g id="p10-basiccor" class="node"><rect x="57.7" y="954.7" width="102" height="12.6" rx="2" fill="#4eb265"/><text class="nl" x="108.7" y="963.2" font-size="6.3" textLength="95" lengthAdjust="spacingAndGlyphs">F_CurTasks_Basic_Correct (3)</text></g>
<g id="p10-intro" class="node"><rect x="178.7" y="974.7" width="73.6" height="13.3" rx="2" fill="#882e72"/><text class="nl" x="215.5" y="983.6" font-size="6.3" textLength="68" lengthAdjust="spacingAndGlyphs">F_CurTasks_Intro (4)</text></g>
<g id="p10-extra" class="node"><rect x="11.7" y="1017.7" width="75" height="12.6" rx="2" fill="#cae0ab"/><text class="nl" x="49.2" y="1026.2" font-size="6.3" textLength="69" lengthAdjust="spacingAndGlyphs">F_CurTasks_Extra (3)</text></g>
<g id="p10-corecor" class="node"><rect x="162" y="1017.7" width="101.3" height="12.6" rx="2" fill="#5289c7"/><text class="nl" x="212.65" y="1026.2" font-size="6.3" textLength="95" lengthAdjust="spacingAndGlyphs">F_CurTasks_Core_Correct (3)</text></g>
</g>

<!-- ===== Panel 11 (row4 col2) ===== -->
<g id="p11">
<g id="p11-connectors">
<path class="e2" d="M365.7,908 C350,908 350,888 365,888 C390,888 400,895 400.7,903"/>
<path class="e2" d="M396.7,915.7 C398,922 402,926 410,928"/>
<path class="e2" d="M423.3,928 C423,922 422,918 421.7,915.7"/>
<path class="e2" d="M469,891 C458,905 450,915 447,928"/>
<path class="e2" d="M475,891.5 C480,915 485,935 496.7,950.3"/>
<path class="e2" d="M540,915.7 C535,930 530,940 528,950.3"/>
<path class="e2" d="M480,963.3 C460,968 440,972 426.7,975.3"/>
<path class="e2" d="M440,975.3 C455,971 470,967 500,963.3"/>
<path class="e2" d="M400.3,981.7 C386,981 386,962 400,962 C412,962 420,968 420,975.3"/>
<path class="e2" d="M515,963.3 C515,980 508,985 480,995 C455,1005 448,1020 447,1043.5"/>
<path class="e2" d="M450,989 C447,1010 445,1025 445,1043.5"/>
<path class="e2" d="M376.7,915.7 C370,950 378,1000 400,1025 C415,1040 430,1045 439.5,1047"/>
<path class="e2" d="M543.3,963.3 C558,980 561,1000 560,1018"/>
<path class="e2" d="M550,1018 C543,1000 537,980 528.3,963.3"/>
<path class="e2" d="M511,1024.3 C496,1024 496,1003 510,1003 C530,1003 545,1010 550,1018"/>
<path class="e2" d="M535,1030.7 C536,1036 538,1040 540,1043.3"/>
<path class="e2" d="M566.7,1043.3 C570,1038 575,1034 581.7,1030.7"/>
<text class="lb" x="366" y="889.3">6</text>
<text class="lb" x="396.7" y="921">2</text>
<text class="lb" x="426" y="922.7">5</text>
<text class="lb" x="459" y="905.3">2</text>
<text class="lb" x="483.3" y="923.3">7</text>
<text class="lb" x="531" y="934.3">2</text>
<text class="lb" x="464" y="966.7">3</text>
<text class="lb" x="489.3" y="972.7">2</text>
<text class="lb" x="391.7" y="964.3">3</text>
<text class="lb" x="473.3" y="992.7">7</text>
<text class="lb" x="446" y="1008.7">2</text>
<text class="lb" x="382.7" y="1006">1</text>
<text class="lb" x="558.3" y="986">3</text>
<text class="lb" x="544.3" y="988.7">3</text>
<text class="lb" x="511" y="1006">4</text>
<text class="lb" x="536.7" y="1037.7">4</text>
<text class="lb" x="577.3" y="1040">4</text>
</g>
<g id="p11-start"><circle class="st" cx="472.7" cy="886" r="5.5"/></g>
<g id="p11-end"><circle class="en" cx="445" cy="1049" r="5.5"/></g>
<g id="p11-leceng" class="node"><rect x="365.7" y="903" width="69" height="12.7" rx="2" fill="#f7f056"/><text class="nl" x="400.2" y="911.6" font-size="6.3" textLength="64" lengthAdjust="spacingAndGlyphs">F_Lec_Engaged (15)</text></g>
<g id="p11-basiccor" class="node"><rect x="492.7" y="903" width="102" height="12.7" rx="2" fill="#4eb265"/><text class="nl" x="543.7" y="911.6" font-size="6.3" textLength="96" lengthAdjust="spacingAndGlyphs">F_CurTasks_Basic_Correct (3)</text></g>
<g id="p11-prevdeep" class="node"><rect x="387.3" y="928" width="76" height="13.3" rx="2" fill="#dc050c"/><text class="nl" x="425.3" y="936.9" font-size="6.3" textLength="70" lengthAdjust="spacingAndGlyphs">F_PrevTasks_Deep (5)</text></g>
<g id="p11-extra" class="node"><rect x="473.3" y="950.3" width="78" height="13" rx="2" fill="#cae0ab"/><text class="nl" x="512.3" y="959" font-size="6.3" textLength="72" lengthAdjust="spacingAndGlyphs">F_CurTasks_Extra (16)</text></g>
<g id="p11-corecor" class="node"><rect x="400.3" y="975.3" width="99.7" height="13.7" rx="2" fill="#5289c7"/><text class="nl" x="450.15" y="984.4" font-size="6.3" textLength="93" lengthAdjust="spacingAndGlyphs">F_CurTasks_Core_Correct (7)</text></g>
<g id="p11-coursemat" class="node"><rect x="511" y="1018" width="98.3" height="12.7" rx="2" fill="#ae76a3"/><text class="nl" x="560.15" y="1026.6" font-size="6.3" textLength="92" lengthAdjust="spacingAndGlyphs">F_CourseMat_Examples (11)</text></g>
<g id="p11-intro" class="node"><rect x="518.3" y="1043.3" width="73.4" height="13.4" rx="2" fill="#882e72"/><text class="nl" x="555" y="1052.2" font-size="6.3" textLength="68" lengthAdjust="spacingAndGlyphs">F_CurTasks_Intro (3)</text></g>
</g>

<!-- ===== Panel 12 (row4 col3) ===== -->
<g id="p12">
<g id="p12-connectors">
<path class="e2" d="M862.7,891 C830,895 780,898 755,905 C735,912 732,935 732,961.7"/>
<path class="e2" d="M868,890.5 C868,905 872,915 880,927"/>
<path class="e2" d="M872,889 C930,910 950,925 953,945 C955,975 945,1000 934,1025"/>
<path class="e2" d="M837,933.7 C822,933 820,913 838,913 C860,913 875,920 880,927"/>
<path class="e2" d="M860,940.7 C830,948 800,955 763.3,961.7"/>
<path class="e2" d="M878.3,940.7 C868,955 860,965 860,981.7"/>
<path class="e2" d="M893.3,940.7 C910,965 915,995 916,1025"/>
<path class="e2" d="M924.3,1025 C924,990 923,960 918.3,940.7"/>
<path class="e2" d="M712,967.7 C696,967 695,950 712,950 C725,950 730,955 730,961.7"/>
<path class="e2" d="M764.3,975 L764.3,1025.2"/>
<path class="e2" d="M837,988.3 C822,988 822,968 838,968 C850,968 853,975 853.3,981.7"/>
<path class="e2" d="M847.7,995 C847,1015 850,1030 856.7,1044.3"/>
<path class="e2" d="M876.7,995 C885,1005 888,1015 888,1025"/>
<path class="e2" d="M880,995 C890,1005 892,1015 892,1025"/>
<path class="e2" d="M900,1025 C895,1015 890,1005 885,995"/>
<path class="e2" d="M880.3,1030.7 C868,1030 867,1008 879,1008 C884,1008 887,1015 886.7,1025"/>
<path class="e2" d="M822,1051 C806,1051 805,1032 821,1031 C837,1030 850,1036 853.3,1044.3"/>
<text class="lb" x="778.7" y="901">3</text>
<text class="lb" x="865.7" y="910.3">6</text>
<text class="lb" x="949.3" y="942">3</text>
<text class="lb" x="837.3" y="915.3">6</text>
<text class="lb" x="812" y="947">3</text>
<text class="lb" x="861" y="951.3">3</text>
<text class="lb" x="909.3" y="977.7">3</text>
<text class="lb" x="926.7" y="980.3">1</text>
<text class="lb" x="702.3" y="952">2</text>
<text class="lb" x="762.7" y="1001">8</text>
<text class="lb" x="827.7" y="972">6</text>
<text class="lb" x="845.7" y="1020">3</text>
<text class="lb" x="884" y="1007">2</text>
<text class="lb" x="897.3" y="1009.3">2</text>
<text class="lb" x="869.3" y="1016">5</text>
<text class="lb" x="817.3" y="1033.7">2</text>
</g>
<g id="p12-start"><circle class="st" cx="867.3" cy="885" r="5.5"/></g>
<g id="p12-end"><circle class="en" cx="764.3" cy="1030.7" r="5.5"/></g>
<g id="p12-coursemat" class="node"><rect x="837" y="927" width="100.3" height="13.7" rx="2" fill="#ae76a3"/><text class="nl" x="887.15" y="936.1" font-size="6.3" textLength="94" lengthAdjust="spacingAndGlyphs">F_CourseMat_Examples (12)</text></g>
<g id="p12-corecor" class="node"><rect x="712" y="961.7" width="104.7" height="13.3" rx="2" fill="#5289c7"/><text class="nl" x="764.35" y="970.6" font-size="6.3" textLength="98" lengthAdjust="spacingAndGlyphs">F_CurTasks_Core_Correct (12)</text></g>
<g id="p12-lecvideo" class="node"><rect x="837" y="981.7" width="60.7" height="13.3" rx="2" fill="#f4a736"/><text class="nl" x="867.35" y="990.6" font-size="6.3" textLength="55" lengthAdjust="spacingAndGlyphs">F_Lec_Video (12)</text></g>
<g id="p12-leceng" class="node"><rect x="880.3" y="1025" width="70.4" height="12.7" rx="2" fill="#f7f056"/><text class="nl" x="915.5" y="1033.6" font-size="6.3" textLength="65" lengthAdjust="spacingAndGlyphs">F_Lec_Engaged (14)</text></g>
<g id="p12-extra" class="node"><rect x="822" y="1044.3" width="78.7" height="13.4" rx="2" fill="#cae0ab"/><text class="nl" x="861.35" y="1053.2" font-size="6.3" textLength="73" lengthAdjust="spacingAndGlyphs">F_CurTasks_Extra (11)</text></g>
</g>

<!-- ===== Bar charts ===== -->
<g id="bars" class="bars">
<rect class="c0" x="277.2" y="85.9" width="7" height="10.8"/><rect class="c1" x="277.2" y="99.4" width="30" height="10.8"/><rect class="c2" x="277.2" y="112.9" width="35.7" height="10.8"/><rect class="c3" x="277.2" y="126.3" width="32" height="10.8"/><rect class="c4" x="277.2" y="139.8" width="42.3" height="10.8"/><rect class="c5" x="277.2" y="153.2" width="38" height="10.8"/><rect class="c6" x="277.2" y="166.7" width="53.3" height="10.8"/><rect class="c7" x="277.2" y="180.2" width="41" height="10.8"/><rect class="c8" x="277.2" y="193.6" width="42" height="10.8"/><rect class="c9" x="277.2" y="207.1" width="32.3" height="10.8"/><rect class="c10" x="277.2" y="220.5" width="15.3" height="10.8"/><rect class="c11" x="277.2" y="234" width="34.7" height="10.8"/>
<rect class="c0" x="623.2" y="85.9" width="3" height="10.8"/><rect class="c1" x="623.2" y="99.4" width="38.3" height="10.8"/><rect class="c2" x="623.2" y="112.9" width="22.7" height="10.8"/><rect class="c3" x="623.2" y="126.3" width="33" height="10.8"/><rect class="c4" x="623.2" y="139.8" width="26.7" height="10.8"/><rect class="c5" x="623.2" y="153.2" width="33" height="10.8"/><rect class="c6" x="623.2" y="166.7" width="39" height="10.8"/><rect class="c7" x="623.2" y="180.2" width="51.3" height="10.8"/><rect class="c8" x="623.2" y="193.6" width="53.3" height="10.8"/><rect class="c9" x="623.2" y="207.1" width="43" height="10.8"/><rect class="c10" x="623.2" y="220.5" width="31.7" height="10.8"/><rect class="c11" x="623.2" y="234" width="37.7" height="10.8"/>
<rect class="c1" x="968.8" y="99.4" width="15.3" height="10.8"/><rect class="c2" x="968.8" y="112.9" width="22.7" height="10.8"/><rect class="c3" x="968.8" y="126.3" width="17.7" height="10.8"/><rect class="c4" x="968.8" y="139.8" width="25.3" height="10.8"/><rect class="c5" x="968.8" y="153.2" width="19.3" height="10.8"/><rect class="c6" x="968.8" y="166.7" width="32.3" height="10.8"/><rect class="c7" x="968.8" y="180.2" width="31" height="10.8"/><rect class="c8" x="968.8" y="193.6" width="53.3" height="10.8"/><rect class="c9" x="968.8" y="207.1" width="18" height="10.8"/><rect class="c10" x="968.8" y="220.5" width="8.7" height="10.8"/><rect class="c11" x="968.8" y="234" width="29.3" height="10.8"/>
<rect class="c2" x="277.2" y="403.9" width="20.7" height="10.8"/><rect class="c3" x="277.2" y="417.3" width="10" height="10.8"/><rect class="c5" x="277.2" y="444.2" width="20.7" height="10.8"/><rect class="c6" x="277.2" y="457.7" width="31.7" height="10.8"/><rect class="c7" x="277.2" y="471.2" width="20.7" height="10.8"/><rect class="c8" x="277.2" y="484.6" width="31.7" height="10.8"/><rect class="c10" x="277.2" y="511.5" width="53.3" height="10.8"/><rect class="c11" x="277.2" y="525" width="42.3" height="10.8"/>
<rect class="c1" x="623.2" y="390.4" width="53.3" height="10.8"/><rect class="c3" x="623.2" y="417.3" width="10" height="10.8"/><rect class="c4" x="623.2" y="430.8" width="10" height="10.8"/><rect class="c6" x="623.2" y="457.7" width="10" height="10.8"/><rect class="c7" x="623.2" y="471.2" width="20.7" height="10.8"/><rect class="c8" x="623.2" y="484.6" width="31.3" height="10.8"/><rect class="c9" x="623.2" y="498.1" width="31.3" height="10.8"/>
<rect class="c2" x="968.8" y="403.9" width="10.3" height="10.8"/><rect class="c4" x="968.8" y="430.8" width="21" height="10.8"/><rect class="c6" x="968.8" y="457.7" width="42.3" height="10.8"/><rect class="c7" x="968.8" y="471.2" width="10.3" height="10.8"/><rect class="c8" x="968.8" y="484.6" width="53.3" height="10.8"/><rect class="c9" x="968.8" y="498.1" width="10.3" height="10.8"/><rect class="c11" x="968.8" y="525" width="31.7" height="10.8"/>
<rect class="c1" x="277.2" y="645.7" width="4.7" height="10.8"/><rect class="c2" x="277.2" y="659.2" width="23.3" height="10.8"/><rect class="c3" x="277.2" y="672.6" width="23.3" height="10.8"/><rect class="c4" x="277.2" y="686.1" width="10" height="10.8"/><rect class="c5" x="277.2" y="699.5" width="10" height="10.8"/><rect class="c6" x="277.2" y="713" width="7" height="10.8"/><rect class="c7" x="277.2" y="726.5" width="42.3" height="10.8"/><rect class="c8" x="277.2" y="739.9" width="23.3" height="10.8"/><rect class="c9" x="277.2" y="753.4" width="18.3" height="10.8"/><rect class="c10" x="277.2" y="766.8" width="23.3" height="10.8"/><rect class="c11" x="277.2" y="780.3" width="53.3" height="10.8"/>
<rect class="c1" x="623.2" y="645.7" width="20.7" height="10.8"/><rect class="c2" x="623.2" y="659.2" width="10" height="10.8"/><rect class="c4" x="623.2" y="686.1" width="20.7" height="10.8"/><rect class="c6" x="623.2" y="713" width="15" height="10.8"/><rect class="c7" x="623.2" y="726.5" width="42.3" height="10.8"/><rect class="c8" x="623.2" y="739.9" width="53" height="10.8"/><rect class="c9" x="623.2" y="753.4" width="4.7" height="10.8"/>
<rect class="c1" x="968.8" y="645.7" width="6.7" height="10.8"/><rect class="c2" x="968.8" y="659.2" width="10.7" height="10.8"/><rect class="c3" x="968.8" y="672.6" width="8" height="10.8"/><rect class="c4" x="968.8" y="686.1" width="9.3" height="10.8"/><rect class="c5" x="968.8" y="699.5" width="2.3" height="10.8"/><rect class="c6" x="968.8" y="713" width="22.3" height="10.8"/><rect class="c7" x="968.8" y="726.5" width="29.3" height="10.8"/><rect class="c8" x="968.8" y="739.9" width="53.3" height="10.8"/><rect class="c9" x="968.8" y="753.4" width="10.7" height="10.8"/><rect class="c10" x="968.8" y="766.8" width="5" height="10.8"/><rect class="c11" x="968.8" y="780.3" width="10.7" height="10.8"/>
<rect class="c2" x="277.2" y="915.6" width="20.7" height="10.8"/><rect class="c3" x="277.2" y="929" width="4.7" height="10.8"/><rect class="c4" x="277.2" y="942.5" width="15.3" height="10.8"/><rect class="c6" x="277.2" y="969.4" width="15.3" height="10.8"/><rect class="c7" x="277.2" y="982.9" width="15.3" height="10.8"/><rect class="c8" x="277.2" y="996.3" width="4.7" height="10.8"/><rect class="c9" x="277.2" y="1009.8" width="53.3" height="10.8"/><rect class="c10" x="277.2" y="1023.2" width="10" height="10.8"/><rect class="c11" x="277.2" y="1036.7" width="4.7" height="10.8"/>
<rect class="c0" x="623.2" y="888.6" width="2.3" height="10.8"/><rect class="c1" x="623.2" y="902.1" width="36.3" height="10.8"/><rect class="c2" x="623.2" y="915.6" width="9.3" height="10.8"/><rect class="c4" x="623.2" y="942.5" width="22.7" height="10.8"/><rect class="c6" x="623.2" y="969.4" width="9.3" height="10.8"/><rect class="c7" x="623.2" y="982.9" width="53" height="10.8"/><rect class="c8" x="623.2" y="996.3" width="50" height="10.8"/><rect class="c9" x="623.2" y="1009.8" width="9.3" height="10.8"/><rect class="c11" x="623.2" y="1036.7" width="16.3" height="10.8"/>
<rect class="c0" x="968.8" y="888.6" width="11" height="10.8"/><rect class="c1" x="968.8" y="902.1" width="45.7" height="10.8"/><rect class="c2" x="968.8" y="915.6" width="11" height="10.8"/><rect class="c3" x="968.8" y="929" width="11" height="10.8"/><rect class="c4" x="968.8" y="942.5" width="45.7" height="10.8"/><rect class="c5" x="968.8" y="955.9" width="7" height="10.8"/><rect class="c6" x="968.8" y="969.4" width="14.7" height="10.8"/><rect class="c7" x="968.8" y="982.9" width="41.7" height="10.8"/><rect class="c8" x="968.8" y="996.3" width="53.3" height="10.8"/><rect class="c9" x="968.8" y="1009.8" width="45.7" height="10.8"/><rect class="c10" x="968.8" y="1023.2" width="3.3" height="10.8"/>
</g>

<g id="axes">
<path class="ax" d="M276.7,78 V252.7 H333.4"/><path class="ax" d="M622.7,78 V252.7 H679.4"/><path class="ax" d="M968.3,78 V252.7 H1025"/>
<path class="ax" d="M276.7,369 V543.7 H333.4"/><path class="ax" d="M622.7,369 V543.7 H679.4"/><path class="ax" d="M968.3,369 V543.7 H1025"/>
<path class="ax" d="M276.7,624.3 V799 H333.4"/><path class="ax" d="M622.7,624.3 V799 H679.4"/><path class="ax" d="M968.3,624.3 V799 H1025"/>
<path class="ax" d="M276.7,880.7 V1055.4 H333.4"/><path class="ax" d="M622.7,880.7 V1055.4 H679.4"/><path class="ax" d="M968.3,880.7 V1055.4 H1025"/>
<text class="al" transform="translate(269.7,165.4) rotate(-90)">Tactic</text><text class="al" transform="translate(615.7,165.4) rotate(-90)">Tactic</text><text class="al" transform="translate(961.3,165.4) rotate(-90)">Tactic</text>
<text class="al" transform="translate(269.7,456.4) rotate(-90)">Tactic</text><text class="al" transform="translate(615.7,456.4) rotate(-90)">Tactic</text><text class="al" transform="translate(961.3,456.4) rotate(-90)">Tactic</text>
<text class="al" transform="translate(269.7,711.7) rotate(-90)">Tactic</text><text class="al" transform="translate(615.7,711.7) rotate(-90)">Tactic</text><text class="al" transform="translate(961.3,711.7) rotate(-90)">Tactic</text>
<text class="al" transform="translate(269.7,968) rotate(-90)">Tactic</text><text class="al" transform="translate(615.7,968) rotate(-90)">Tactic</text><text class="al" transform="translate(961.3,968) rotate(-90)">Tactic</text>
<text class="al" x="305" y="265">rel. freq.</text><text class="al" x="651" y="265">rel. freq.</text><text class="al" x="996.6" y="265">rel. freq.</text>
<text class="al" x="305" y="556">rel. freq.</text><text class="al" x="651" y="556">rel. freq.</text><text class="al" x="996.6" y="556">rel. freq.</text>
<text class="al" x="305" y="811">rel. freq.</text><text class="al" x="651" y="811">rel. freq.</text><text class="al" x="996.6" y="811">rel. freq.</text>
<text class="al" x="305" y="1067.5">rel. freq.</text><text class="al" x="651" y="1067.5">rel. freq.</text><text class="al" x="996.6" y="1067.5">rel. freq.</text>
</g>

<g id="legend">
<rect x="128.5" y="1076.5" width="761" height="73" rx="3" fill="#fff" stroke="#ccc" stroke-width="1"/>
<text x="509" y="1093" font-size="13" text-anchor="middle">Tactics</text>
<rect class="c0" x="136" y="1102" width="21" height="7.5"/><text class="lg" x="165" y="1110">TA_Sess</text>
<rect class="c1" x="136" y="1118" width="21" height="7.5"/><text class="lg" x="165" y="1126">F_CourseMat_Examples</text>
<rect class="c2" x="136" y="1134" width="21" height="7.5"/><text class="lg" x="165" y="1142">F_CurTasks_Intro</text>
<rect class="c3" x="329" y="1102" width="21" height="7.5"/><text class="lg" x="358" y="1110">F_CurTasks_Core_Attempt</text>
<rect class="c4" x="329" y="1118" width="21" height="7.5"/><text class="lg" x="358" y="1126">F_CurTasks_Core_Correct</text>
<rect class="c5" x="329" y="1134" width="21" height="7.5"/><text class="lg" x="358" y="1142">F_CurTasks_Basic_Attempt</text>
<rect class="c6" x="545" y="1102" width="21" height="7.5"/><text class="lg" x="569" y="1110">F_CurTasks_Basic_Correct</text>
<rect class="c7" x="545" y="1118" width="21" height="7.5"/><text class="lg" x="569" y="1126">F_CurTasks_Extra</text>
<rect class="c8" x="545" y="1134" width="21" height="7.5"/><text class="lg" x="569" y="1142">F_Lec_Engaged</text>
<rect class="c9" x="722" y="1102" width="21" height="7.5"/><text class="lg" x="748" y="1110">F_Lec_Video</text>
<rect class="c10" x="722" y="1118" width="21" height="7.5"/><text class="lg" x="748" y="1126">F_PrevTasks_Basic</text>
<rect class="c11" x="722" y="1134" width="21" height="7.5"/><text class="lg" x="748" y="1142">F_PrevTasks_Deep</text>
</g>
</svg>
